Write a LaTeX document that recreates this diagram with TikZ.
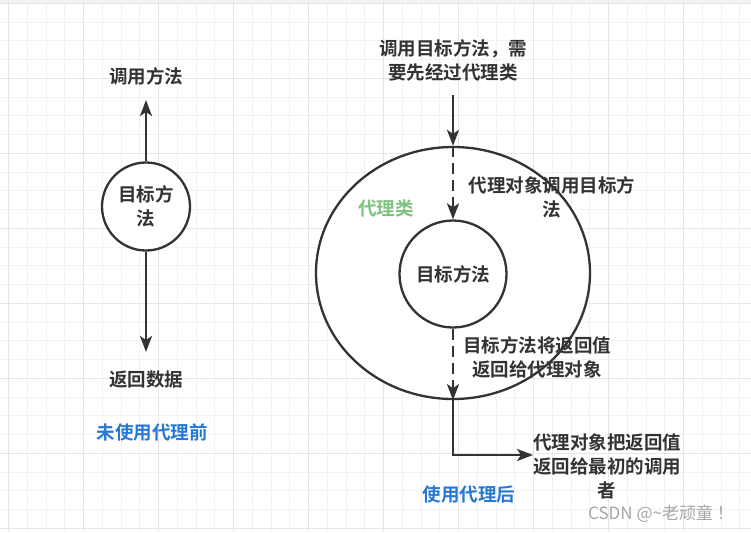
\documentclass[tikz,border=0pt]{standalone}
\usepackage{fontspec}
\setmainfont{Noto Sans CJK SC}[BoldFont={Noto Sans CJK SC Bold}]
\usetikzlibrary{arrows.meta,shapes.geometric}

\begin{document}
\begin{tikzpicture}[x=1pt,y=-1pt,
  txt/.style={font=\fontsize{18.5}{24}\selectfont\bfseries, text=myDark, align=center, inner sep=0},
  ring/.style={draw=myDark, line width=2.3pt, fill=white, inner sep=0},
  arr/.style={draw=myDark, line width=2.3pt, -{Stealth[length=16pt,width=12pt,inset=4pt]}},
  dsh/.style={arr, dash pattern=on 11pt off 6pt}]
% Colors define
\definecolor{myDark}{HTML}{333333}
\definecolor{myBlue}{HTML}{2678D4}
\definecolor{myGreen}{HTML}{7CC47E}
\definecolor{myMinor}{HTML}{F2F2F2}
\definecolor{myMajor}{HTML}{E6E6E6}

\useasboundingbox (0,0) rectangle (751,532);
\fill[white] (0,0) rectangle (751,532);

% Here we draw the background grid
\fill[myMinor] (0,0) rectangle (751,3);
\foreach \i in {0,...,39}
    \draw[myMinor, line width=1pt] ({8.6+18.75*\i},0) -- ({8.6+18.75*\i},532);
\foreach \j in {0,...,28}
    \draw[myMinor, line width=1pt] (0,{3.3+18.75*\j}) -- (751,{3.3+18.75*\j});
\foreach \i in {0,...,9}
    \draw[myMajor, line width=1pt] ({8.6+75*\i},0) -- ({8.6+75*\i},532);
\foreach \j in {0,...,7}
    \draw[myMajor, line width=1pt] (0,{3.3+75*\j}) -- (751,{3.3+75*\j});

% Left: without proxy
\node[ring, circle, minimum size=88pt, txt] (tgtL) at (146,206.5) {目标方\\法};
\node[txt] (callL) at (146,76) {调用方法};
\coordinate (callLtip) at (146,100);
\draw[arr] (tgtL.north) -- (callLtip);
\node[txt] (retL) at (146,380) {返回数据};
\coordinate (retLtip) at (146,352);
\draw[arr] (tgtL.south) -- (retLtip);
\node[txt, text=myBlue] (beforeL) at (152,432) {未使用代理前};

% Right: with proxy
\node[ring, ellipse, minimum width=274pt, minimum height=252pt] (proxy) at (453,273) {};
\node[ring, circle, minimum size=107pt, txt] (tgtR) at (453,274) {目标方法};
\node[txt, text=myGreen] (proxyLbl) at (386,208) {代理类};

% Call path
\node[txt] (callR) at (453,60) {调用目标方法，需\\要先经过代理类};
\coordinate (callRstart) at (453,95);
\draw[arr] (callRstart) -- (proxy.north);
\draw[dsh] (proxy.north) -- (tgtR.north);
\node[txt] (invokeR) at (552,197) {代理对象调用目标方\\法};

% Return path
\draw[dsh] (tgtR.south) -- (proxy.south);
\node[txt] (backR) at (537,357) {目标方法将返回值\\返回给代理对象};
\coordinate (finalTip) at (533,455);
\draw[arr] (proxy.south) |- (finalTip);
\node[txt] (finalR) at (607,466) {代理对象把返回值\\返回给最初的调用\\者};
\node[txt, text=myBlue] (afterR) at (469,494) {使用代理后};

% Watermark
\node[font=\fontsize{17}{20}\selectfont, text=gray!70, inner sep=0] (mark) at (661,514) {CSDN @\textasciitilde 老顽童 ！};
\end{tikzpicture}
\end{document}
